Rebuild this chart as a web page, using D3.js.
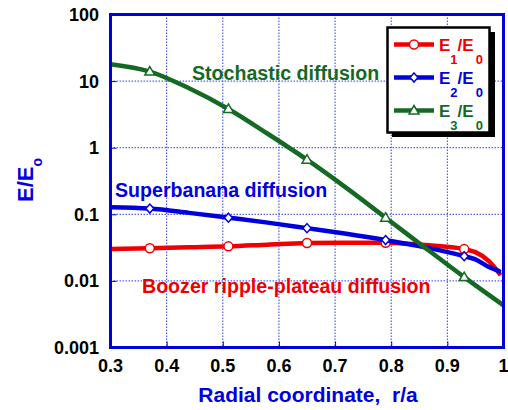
<!DOCTYPE html>
<meta charset="utf-8">
<style>
body { margin: 0; background: #fff; }
text { font-family: "Liberation Sans", Arial, sans-serif; font-weight: bold; }
.grid line { stroke: #2a3ff0; stroke-width: 1; stroke-dasharray: 1.5,1.5; }
</style>
<svg width="508" height="410"></svg>
<script src="https://d3js.org/d3.v7.min.js"></script>
<script>

var svg = d3.select("svg");

// radial coordinate r/a and E/E0 values
var r1 = [0.30, 0.37, 0.44, 0.51, 0.58, 0.65, 0.72, 0.79, 0.86, 0.93, 0.95, 0.975, 0.99, 0.995];
var e1 = [0.030, 0.031, 0.032, 0.033, 0.035, 0.037, 0.0375, 0.0375, 0.0345, 0.030, 0.027, 0.0195, 0.0138, 0.0122];

var r2 = [0.30, 0.37, 0.44, 0.51, 0.58, 0.65, 0.72, 0.79, 0.86, 0.93, 0.95, 0.975, 0.99, 0.995];
var e2 = [0.128, 0.122, 0.105, 0.089, 0.075, 0.062, 0.051, 0.041, 0.032, 0.0235, 0.021, 0.016, 0.0142, 0.0135];

var r3 = [0.30, 0.37, 0.44, 0.51, 0.58, 0.65, 0.72, 0.79, 0.86, 0.93, 1.0];
var e3 = [17.9, 13.9, 7.8, 3.82, 1.62, 0.66, 0.249, 0.089, 0.0316, 0.0114, 0.0043];

var markerR = [0.37, 0.51, 0.65, 0.79, 0.93];

var xTicks = [0.3, 0.4, 0.5, 0.6, 0.7, 0.8, 0.9, 1];
var xTickLabels = ["0.3", "0.4", "0.5", "0.6", "0.7", "0.8", "0.9", "1"];
var yTicks = [0.001, 0.01, 0.1, 1, 10, 100];
var yTickLabels = ["0.001", "0.01", "0.1", "1", "10", "100"];

var blue = "#0000dd", red = "#ee0000", green = "#146a24";

var x = d3.scaleLinear().domain([0.3, 1]).range([110.5, 503.5]);
var y = d3.scaleLog().domain([0.001, 100]).range([347.5, 14.5]);

// grid
var grid = svg.append("g").attr("class", "grid");
grid.selectAll("line.v")
    .data(xTicks.slice(1, -1))
  .enter().append("line")
    .attr("x1", x).attr("x2", x)
    .attr("y1", y(100)).attr("y2", y(0.001));
grid.selectAll("line.h")
    .data(yTicks.slice(1, -1))
  .enter().append("line")
    .attr("y1", y).attr("y2", y)
    .attr("x1", x(0.3)).attr("x2", x(1));

// axes (ticks inward, labels added separately)
svg.append("g")
    .attr("transform", "translate(0," + y(0.001) + ")")
    .call(d3.axisTop(x).tickValues(xTicks).tickSize(6).tickFormat(""))
    .call(function(g) { g.select(".domain").remove(); g.selectAll("line").attr("stroke", blue); });
svg.append("g")
    .attr("transform", "translate(" + x(0.3) + ",0)")
    .call(d3.axisRight(y).tickValues(yTicks).tickSize(6).tickFormat(""))
    .call(function(g) { g.select(".domain").remove(); g.selectAll("line").attr("stroke", blue); });

svg.selectAll("text.xt")
    .data(xTicks)
  .enter().append("text")
    .attr("x", x)
    .attr("y", 372)
    .attr("text-anchor", "middle")
    .attr("font-size", 18)
    .text(function(d, i) { return xTickLabels[i]; });

svg.selectAll("text.yt")
    .data(yTicks)
  .enter().append("text")
    .attr("x", 99)
    .attr("y", function(d) { return y(d) + 6.5; })
    .attr("text-anchor", "end")
    .attr("font-size", 18)
    .text(function(d, i) { return yTickLabels[i]; });

// series
var line = d3.line()
    .x(function(d) { return x(d[0]); })
    .y(function(d) { return y(d[1]); })
    .curve(d3.curveMonotoneX);

var series = [
  {r: r1, e: e1, color: red, shape: "circle", sub: "1"},
  {r: r2, e: e2, color: blue, shape: "diamond", sub: "2"},
  {r: r3, e: e3, color: green, shape: "triangle", sub: "3"}
];

function marker(g, shape, color) {
  if (shape === "circle") {
    g.append("circle").attr("r", 4.5);
  } else if (shape === "diamond") {
    g.append("path").attr("d", "M0,-4.5L4,0L0,4.5L-4,0Z");
  } else {
    g.append("path").attr("d", "M0,-5L5,3.5L-5,3.5Z");
  }
  g.selectAll("*").attr("fill", "#fff").attr("stroke", color).attr("stroke-width", 1.5);
}

series.forEach(function(s) {
  var pts = s.r.map(function(r, i) { return [r, s.e[i]]; });
  svg.append("path")
      .datum(pts)
      .attr("fill", "none")
      .attr("stroke", s.color)
      .attr("stroke-width", 4.5)
      .attr("d", line);
  pts.filter(function(p) { return markerR.indexOf(p[0]) >= 0; }).forEach(function(p) {
    var g = svg.append("g").attr("transform", "translate(" + x(p[0]) + "," + y(p[1]) + ")");
    marker(g, s.shape, s.color);
  });
});

// frame
svg.append("rect")
    .attr("x", x(0.3)).attr("y", y(100))
    .attr("width", x(1) - x(0.3)).attr("height", y(0.001) - y(100))
    .attr("fill", "none").attr("stroke", blue).attr("stroke-width", 3);

// annotations
svg.append("text").attr("x", 192).attr("y", 80).attr("font-size", 19.6)
    .attr("fill", green).text("Stochastic diffusion");
svg.append("text").attr("x", 115).attr("y", 197).attr("font-size", 19.6)
    .attr("fill", blue).text("Superbanana diffusion");
svg.append("text").attr("x", 142).attr("y", 292.5).attr("font-size", 19.6)
    .attr("fill", red).text("Boozer ripple-plateau diffusion");

// legend
var lg = svg.append("g");
lg.append("rect").attr("x", 392).attr("y", 32).attr("width", 103).attr("height", 105).attr("fill", "#000");
lg.append("rect").attr("x", 387.5).attr("y", 27.5).attr("width", 102).attr("height", 105)
    .attr("fill", "#fff").attr("stroke", "#000").attr("stroke-width", 2.5);

series.forEach(function(s, i) {
  var ly = 44.5 + i * 33;
  lg.append("line")
      .attr("x1", 394).attr("x2", 434).attr("y1", ly).attr("y2", ly)
      .attr("stroke", s.color).attr("stroke-width", 4.5);
  marker(lg.append("g").attr("transform", "translate(414," + ly + ")"), s.shape, s.color);
  var t = lg.append("text").attr("x", 439).attr("y", ly + 6).attr("fill", s.color).attr("font-size", 17);
  t.append("tspan").text("E");
  t.append("tspan").attr("dy", 13).attr("font-size", 13).text(s.sub);
  t.append("tspan").attr("dy", -13).text("/E");
  t.append("tspan").attr("dy", 13).attr("dx", 2).attr("font-size", 13).text("0");
});

// axis titles
svg.append("text")
    .attr("x", 308).attr("y", 402)
    .attr("text-anchor", "middle")
    .attr("font-size", 21)
    .attr("fill", blue)
    .attr("xml:space", "preserve")
    .text("Radial coordinate,  r/a");

var yt = svg.append("text")
    .attr("transform", "translate(33,202) rotate(-90)")
    .attr("font-size", 22)
    .attr("fill", blue);
yt.append("tspan").text("E/E");
yt.append("tspan").attr("dy", 9).attr("font-size", 14).text("o");

</script>
